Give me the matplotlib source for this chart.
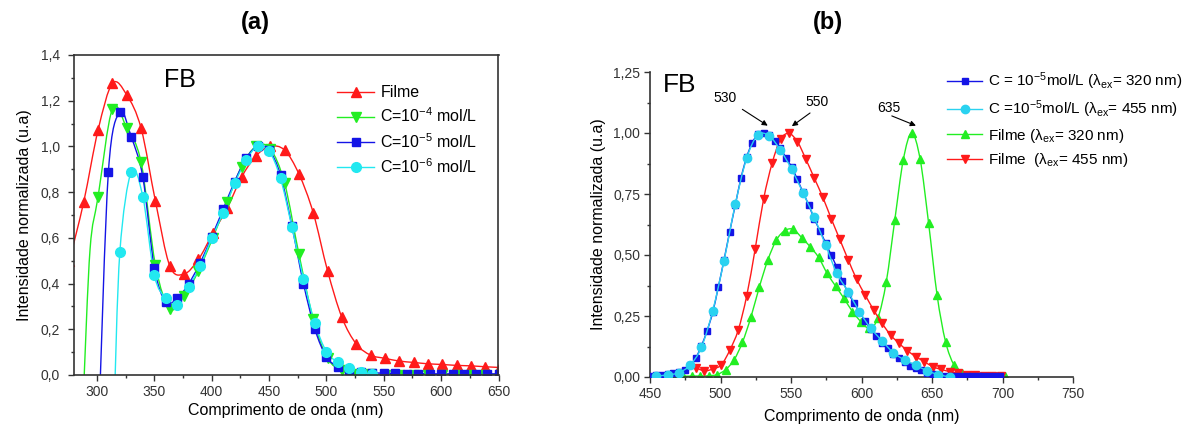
import numpy as np
import matplotlib
matplotlib.use("Agg")
import matplotlib.pyplot as plt
from matplotlib.path import Path
from matplotlib.patches import PathPatch
from matplotlib.lines import Line2D
from matplotlib.ticker import MultipleLocator, FuncFormatter

plt.rcParams['font.family'] = ['Liberation Sans', 'DejaVu Sans']
plt.rcParams['mathtext.fontset'] = 'custom'
plt.rcParams['mathtext.rm'] = 'Liberation Sans'
plt.rcParams['mathtext.it'] = 'Liberation Sans:italic'
plt.rcParams['mathtext.bf'] = 'Liberation Sans:bold'

# ---------------- (a) absorption spectra ----------------
filme_a_x = [276, 288.5, 301, 313.5, 326, 338.5, 351, 363.5, 376, 388.5, 401, 413.5,
             426, 438.5, 451, 463.5, 476, 488.5, 501, 513.5, 526, 538.5, 551, 563.5,
             576, 588.5, 601, 613.5, 626, 638.5, 651]
filme_a_y = [0.50, 0.758, 1.072, 1.276, 1.225, 1.079, 0.76, 0.477, 0.442, 0.506, 0.62, 0.73,
             0.865, 0.958, 1.0, 0.984, 0.88, 0.71, 0.456, 0.252, 0.136, 0.087, 0.073, 0.061,
             0.055, 0.049, 0.046, 0.042, 0.040, 0.036, 0.033]

c4_x = [288.5, 294, 301, 313.5, 326, 338.5, 351, 363.5, 376, 388.5, 401, 413.5, 426,
        438.5, 451, 463.5, 476, 488.5, 501, 513.5, 526, 538.5, 551, 563.5, 576, 588.5,
        601, 613.5, 626, 638.5, 651]
c4_y = [-0.05, 0.55, 0.78, 1.165, 1.08, 0.93, 0.48, 0.29, 0.345, 0.456, 0.60, 0.758, 0.911,
        1.0, 0.99, 0.84, 0.53, 0.245, 0.073, 0.02, 0.005, 0.003, 0.002, 0.002, 0.002, 0.002,
        0.002, 0.002, 0.002, 0.002, 0.002]

c5_x = [302, 310, 320, 330, 340, 350, 360, 370, 380, 390, 400, 410, 420, 430, 440, 450,
        460, 470, 480, 490, 500, 510, 520, 530, 540, 550, 560, 570, 580, 590, 600, 610,
        620, 630, 640, 650]
c5_y = [-0.15, 0.89, 1.15, 1.04, 0.865, 0.47, 0.32, 0.335, 0.40, 0.49, 0.605, 0.725, 0.846,
        0.948, 1.0, 0.984, 0.875, 0.65, 0.40, 0.20, 0.08, 0.036, 0.02, 0.014, 0.010, 0.008,
        0.007, 0.006, 0.006, 0.005, 0.005, 0.005, 0.005, 0.005, 0.005, 0.005]

c6_x = [315, 320, 330, 340, 350, 360, 370, 380, 390, 400, 410, 420, 430, 440, 450, 460,
        470, 480, 490, 500, 510, 520, 530, 540]
c6_y = [-0.15, 0.54, 0.89, 0.78, 0.437, 0.335, 0.306, 0.385, 0.477, 0.598, 0.71, 0.838,
        0.94, 1.0, 0.98, 0.86, 0.646, 0.42, 0.226, 0.102, 0.055, 0.029, 0.015, 0.003]

# ---------------- (b) emission spectra ----------------
sol320_x = [450.5, 454.5, 458.5, 462.5, 466.5, 470.5, 474.5, 478.5, 482.5, 486.5, 490.5,
            494.5, 498.5, 502.5, 506.5, 510.5, 514.5, 518.5, 522.5, 526.5, 530.5, 534.5,
            538.5, 542.5, 546.5, 550.5, 554.5, 558.5, 562.5, 566.5, 570.5, 574.5, 578.5,
            582.5, 586.5, 590.5, 594.5, 598.5, 602.5, 606.5, 610.5, 614.5, 618.5, 622.5,
            626.5, 630.5, 634.5, 638.5, 642.5, 646.5, 650.5, 654.5, 658.5, 662.5, 666.5,
            670.5, 674.5, 678.5, 682.5, 686.5, 690.5, 694.5, 698.5]
sol320_y = [0.005, 0.007, 0.009, 0.012, 0.016, 0.022, 0.030, 0.048, 0.078, 0.128, 0.19,
            0.265, 0.37, 0.48, 0.595, 0.705, 0.815, 0.90, 0.96, 0.995, 1.0, 0.99,
            0.968, 0.937, 0.898, 0.86, 0.81, 0.757, 0.706, 0.648, 0.60, 0.55, 0.50,
            0.45, 0.395, 0.345, 0.305, 0.267, 0.23, 0.197, 0.167, 0.14, 0.117, 0.096,
            0.076, 0.06, 0.047, 0.037, 0.028, 0.018, 0.012, 0.008, 0.006, 0.005, 0.004,
            0.004, 0.003, 0.003, 0.003, 0.003, 0.003, 0.003, 0.003]

sol455_x = [454.5, 462.5, 470.5, 478.5, 486.5, 494.5, 502.5, 510.5, 518.5, 526.5, 534.5,
            542.5, 550.5, 558.5, 566.5, 574.5, 582.5, 590.5, 598.5, 606.5, 614.5, 622.5,
            630.5, 638.5, 646.5, 654.5, 662.5]
sol455_y = [0.005, 0.008, 0.018, 0.049, 0.122, 0.272, 0.477, 0.708, 0.896, 0.992, 0.988,
            0.93, 0.851, 0.755, 0.654, 0.541, 0.425, 0.35, 0.268, 0.20, 0.149, 0.10,
            0.07, 0.049, 0.025, 0.01, 0.0]

film320_x = [449.6, 455.6, 461.6, 467.6, 473.6, 479.6, 485.6, 491.6, 497.6, 503.6, 509.6,
             515.6, 521.6, 527.6, 533.6, 539.6, 545.6, 551.6, 557.6, 563.6, 569.6, 575.6,
             581.6, 587.6, 593.6, 599.6, 605.6, 611.6, 617.6, 623.6, 629.6, 635.6, 641.6,
             647.6, 653.6, 659.6, 665.6, 671.6, 677.6, 683.6, 689.6, 695.6, 701.6]
film320_y = [0.003, 0.003, 0.003, 0.003, 0.003, 0.004, 0.004, 0.005, 0.01, 0.03, 0.07,
             0.143, 0.246, 0.37, 0.48, 0.561, 0.60, 0.605, 0.571, 0.534, 0.49, 0.425,
             0.373, 0.322, 0.268, 0.227, 0.20, 0.241, 0.391, 0.643, 0.889, 1.0, 0.892,
             0.63, 0.336, 0.145, 0.049, 0.015, 0.006, 0.004, 0.003, 0.003, 0.003]

film455_x = [482.6, 488.6, 494.6, 500.6, 506.6, 512.6, 518.6, 524.6, 530.6, 536.6, 542.6,
             548.6, 554.6, 560.6, 566.6, 572.6, 578.6, 584.6, 590.6, 596.6, 602.6, 608.6,
             614.6, 620.6, 626.6, 632.6, 638.6, 644.6, 650.6, 656.6, 662.6, 668.6, 674.6,
             680.6, 686.6, 692.6, 698.6]
film455_y = [0.038, 0.025, 0.033, 0.05, 0.11, 0.193, 0.333, 0.525, 0.73, 0.876, 0.974,
             0.998, 0.964, 0.892, 0.814, 0.736, 0.648, 0.564, 0.48, 0.40, 0.336, 0.275,
             0.22, 0.172, 0.138, 0.108, 0.083, 0.063, 0.042, 0.031, 0.022, 0.016, 0.01,
             0.008, 0.005, 0.004, 0.003]

peak_labels = ["530", "550", "635"]
peak_pos = [(530.5, 1.0), (548.6, 0.998), (635.6, 1.0)]

RED = '#ff1a1a'
GREEN = '#22ee22'
BLUE = '#1414e6'
CYAN = '#22e8f0'
CYAN_B = '#2ad2f0'


def spline_path(x, y):
    """Smooth Catmull-Rom connection rendered as cubic Bezier segments."""
    x = np.asarray(x, float)
    y = np.asarray(y, float)
    n = len(x)
    verts = [(x[0], y[0])]
    codes = [Path.MOVETO]
    for i in range(n - 1):
        xa, ya = (x[i - 1], y[i - 1]) if i > 0 else (x[i], y[i])
        xd, yd = (x[i + 2], y[i + 2]) if i + 2 < n else (x[i + 1], y[i + 1])
        c1 = (x[i] + (x[i + 1] - xa) / 6.0, y[i] + (y[i + 1] - ya) / 6.0)
        c2 = (x[i + 1] - (xd - x[i]) / 6.0, y[i + 1] - (yd - y[i]) / 6.0)
        verts += [c1, c2, (x[i + 1], y[i + 1])]
        codes += [Path.CURVE4] * 3
    return Path(verts, codes)


def draw_series(ax, x, y, color, marker, ms, skip=0, lw=1.0, z=2):
    ax.add_patch(PathPatch(spline_path(x, y), fill=False, edgecolor=color,
                           lw=lw, zorder=z))
    ax.plot(x[skip:], y[skip:], ls='none', marker=marker, ms=ms, color=color,
            mec=color, zorder=z + 0.1)


def comma_fmt(decimals):
    return FuncFormatter(lambda v, p: f"{v:.{decimals}f}".replace('.', ','))


def style_axis(ax, xmaj, ymaj, ydec, ypad=3):
    ax.xaxis.set_major_locator(MultipleLocator(xmaj))
    ax.xaxis.set_minor_locator(MultipleLocator(xmaj / 2))
    ax.yaxis.set_major_locator(MultipleLocator(ymaj))
    ax.yaxis.set_minor_locator(MultipleLocator(ymaj / 2))
    ax.yaxis.set_major_formatter(comma_fmt(ydec))
    ax.tick_params(which='both', direction='out', top=False, right=False,
                   labelsize=TICK_FS, colors='#333333', width=1.0)
    ax.tick_params(which='major', length=4, pad=3)
    ax.tick_params(axis='y', which='major', pad=ypad)
    ax.tick_params(which='minor', length=2.5)
    for s in ax.spines.values():
        s.set_linewidth(1.2)
        s.set_color('#333333')


fig = plt.figure(figsize=(11.95, 4.25), dpi=100)

TICK_FS = 10
LABEL_FS = 11.5

# ---------- panel (a) ----------
axa = fig.add_axes([74 / 1195, 50 / 425, 424.5 / 1195, 320 / 425])
draw_series(axa, filme_a_x, filme_a_y, RED, '^', 7)
draw_series(axa, c4_x, c4_y, GREEN, 'v', 7, skip=2)
draw_series(axa, c5_x, c5_y, BLUE, 's', 6, skip=1)
draw_series(axa, c6_x, c6_y, CYAN, 'o', 7, skip=1)
axa.set_xlim(280, 650)
axa.set_ylim(0, 1.4)
style_axis(axa, 50, 0.2, 1, ypad=6)
axa.set_xlabel('Comprimento de onda (nm)', fontsize=LABEL_FS, labelpad=3)
axa.set_ylabel('Intensidade normalizada (u.a)', fontsize=LABEL_FS, labelpad=6)
axa.text(372, 1.29, 'FB', fontsize=18, ha='center', va='center')
fig.text(255 / 1195, 1 - 22 / 425, '(a)', fontsize=17, fontweight='bold',
         ha='center', va='center')

handles_a = [
    Line2D([], [], color=RED, marker='^', ms=7, lw=1.0),
    Line2D([], [], color=GREEN, marker='v', ms=7, lw=1.0),
    Line2D([], [], color=BLUE, marker='s', ms=6, lw=1.0),
    Line2D([], [], color=CYAN, marker='o', ms=7, lw=1.0),
]
labels_a = ['Filme', r'C=10$^{\mathregular{-4}}$ mol/L',
            r'C=10$^{\mathregular{-5}}$ mol/L', r'C=10$^{\mathregular{-6}}$ mol/L']
axa.legend(handles_a, labels_a, loc='upper left', bbox_to_anchor=(0.605, 0.925),
           frameon=False, fontsize=11.5, handlelength=2.3, handletextpad=0.4,
           labelspacing=0.4, borderaxespad=0)

# ---------- panel (b) ----------
axb = fig.add_axes([650 / 1195, 48 / 425, 423 / 1195, 305 / 425])
draw_series(axb, film320_x, film320_y, GREEN, '^', 5.5, z=2)
draw_series(axb, film455_x, film455_y, RED, 'v', 5.5, z=3)
draw_series(axb, sol320_x, sol320_y, BLUE, 's', 5, z=4)
draw_series(axb, sol455_x, sol455_y, CYAN_B, 'o', 6, z=5)
axb.set_xlim(450, 750)
axb.set_ylim(0, 1.25)
style_axis(axb, 50, 0.25, 2)
axb.spines['top'].set_visible(False)
axb.spines['right'].set_visible(False)
axb.set_xlabel('Comprimento de onda (nm)', fontsize=LABEL_FS, labelpad=6)
axb.set_ylabel('Intensidade normalizada (u.a)', fontsize=LABEL_FS, labelpad=5)
axb.text(471, 1.197, 'FB', fontsize=19, ha='center', va='center')
fig.text(828 / 1195, 1 - 22 / 425, '(b)', fontsize=17, fontweight='bold',
         ha='center', va='center')

text_pos = [(503.5, 1.143), (568.5, 1.127), (619.5, 1.102)]
arrow_from = [(515.5, 1.097), (563.5, 1.082), (621.5, 1.07)]
arrow_dx = [3, 2, 3]
for lab, (px, py), (tx, ty), (ax0, ay0), dx in zip(peak_labels, peak_pos, text_pos,
                                                   arrow_from, arrow_dx):
    axb.text(tx, ty, lab, fontsize=10, ha='center', va='center')
    axb.annotate('', xy=(px + dx, py + 0.03), xytext=(ax0, ay0),
                 arrowprops=dict(arrowstyle='-|>', color='black', lw=0.8,
                                 mutation_scale=8, shrinkA=0, shrinkB=0))

handles_b = [
    Line2D([], [], color=BLUE, marker='s', ms=5, lw=1.0),
    Line2D([], [], color=CYAN_B, marker='o', ms=6, lw=1.0),
    Line2D([], [], color=GREEN, marker='^', ms=5.5, lw=1.0),
    Line2D([], [], color=RED, marker='v', ms=5.5, lw=1.0),
]
labels_b = [r'C = 10$^{\mathregular{-5}}$mol/L (λ$_{\mathregular{ex}}$= 320 nm)',
            r'C =10$^{\mathregular{-5}}$mol/L (λ$_{\mathregular{ex}}$= 455 nm)',
            r'Filme (λ$_{\mathregular{ex}}$= 320 nm)',
            r'Filme  (λ$_{\mathregular{ex}}$= 455 nm)']
axb.legend(handles_b, labels_b, loc='upper left', bbox_to_anchor=(0.688, 1.025),
           frameon=False, fontsize=11, handlelength=2.3, handletextpad=0.4,
           labelspacing=0.42, borderaxespad=0)

fig.savefig('out.png', dpi=100)
